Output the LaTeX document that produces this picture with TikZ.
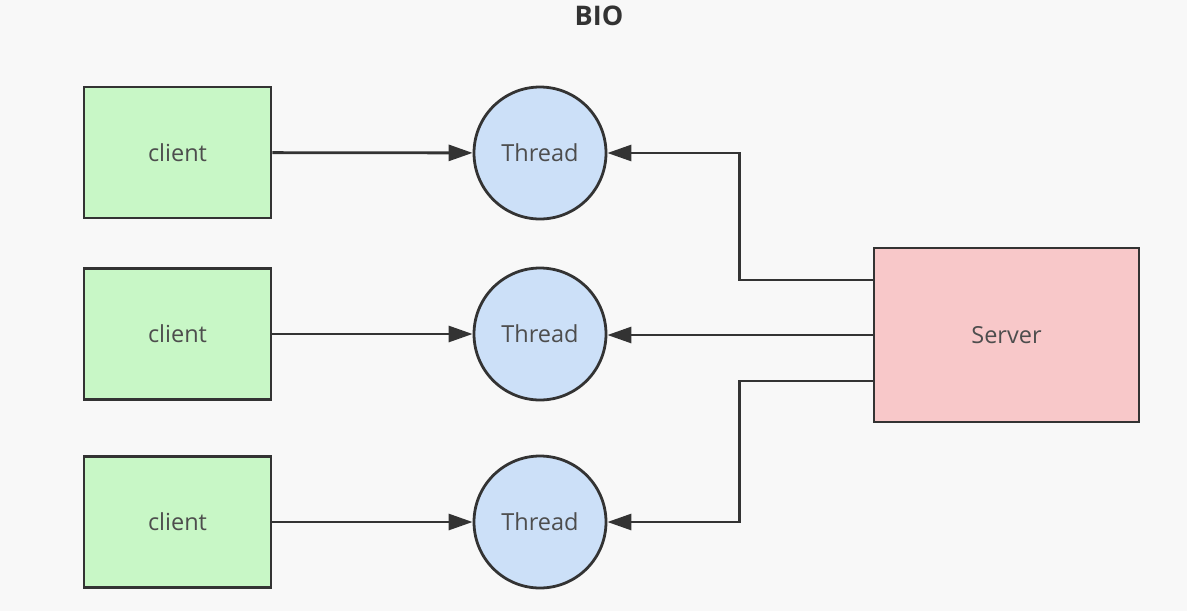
\documentclass[tikz,border=0pt]{standalone}
\usepackage{fontspec}
\setmainfont{Open Sans}
\usetikzlibrary{arrows.meta, positioning}
\definecolor{bggray}{RGB}{248,248,248}
\definecolor{linegray}{RGB}{51,51,51}
\definecolor{textgray}{RGB}{77,77,77}
\definecolor{clientgreen}{RGB}{200,247,198}
\definecolor{threadblue}{RGB}{204,224,248}
\definecolor{serverred}{RGB}{248,200,201}

\begin{document}
\begin{tikzpicture}[x=1pt, y=-1pt, line width=2.8pt, draw=linegray,
		>={Triangle[length=24pt,width=16pt]},
		clientbox/.style={draw=linegray, fill=clientgreen, minimum width=187pt, minimum height=131pt, text=textgray, font=\fontsize{23.5}{27}\selectfont},
		threadnode/.style={draw=linegray, fill=threadblue, circle, inner sep=0pt, minimum size=132pt, text=textgray, font=\fontsize{23.5}{27}\selectfont}]
			\fill[bggray] (0,0) rectangle (1187,611);
			\useasboundingbox (0,0) rectangle (1187,611);
			
			\node[text=linegray, font=\bfseries\fontsize{27}{30}\selectfont] (title) at (599,16) {BIO};
			
			\node[clientbox] (c1) at (177.5,152.5) {client};
			\node[clientbox] (c2) at (177.5,334) {client};
			\node[clientbox] (c3) at (177.5,522) {client};
			
			\node[threadnode] (t1) at (540,153) {Thread};
			\node[threadnode] (t2) at (540,334) {Thread};
			\node[threadnode] (t3) at (540,522) {Thread};
			
			\node[draw=linegray, fill=serverred, minimum width=265pt, minimum height=174pt, text=textgray, font=\fontsize{23.5}{27}\selectfont] (s) at (1006.5,335) {Server};
			
			\draw[->, linegray] (c1) -- (t1);
			\draw[->, linegray] (c2) -- (t2);
			\draw[->, linegray] (c3) -- (t3);
			
			\draw[->, linegray] ([yshift=55pt]s.west) -- ++(-133,0) |- (t1);
			\draw[->, linegray] (s.west) -- (s.west -| t2.east);
			\draw[->, linegray] ([yshift=-46pt]s.west) -- ++(-133,0) |- (t3);
\end{tikzpicture}
\end{document}
